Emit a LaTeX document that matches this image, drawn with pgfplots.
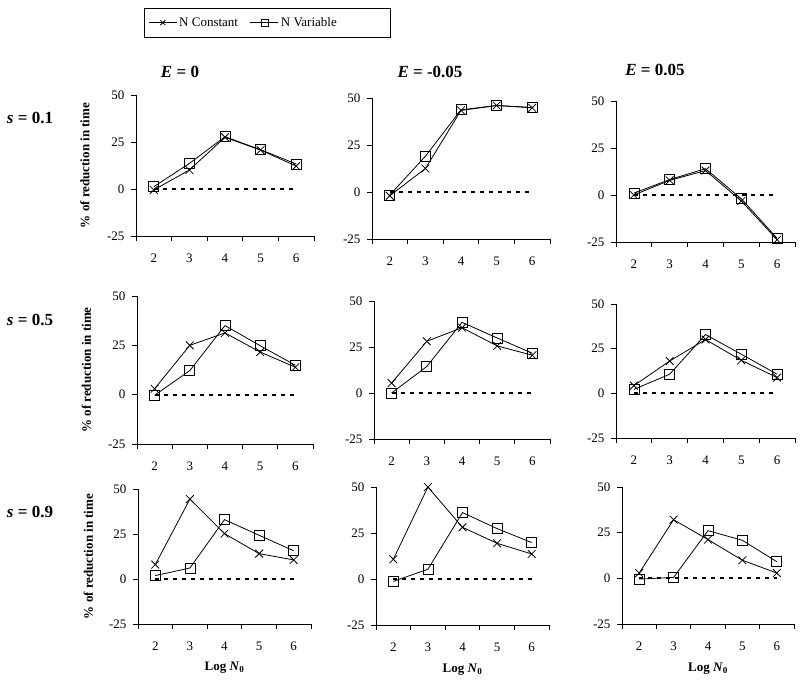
\documentclass[border=0pt]{standalone}
\usepackage{fontspec}
\setmainfont{Liberation Serif}
\usepackage{pgfplots}
\pgfplotsset{compat=1.18}
\pgfplotsset{
  panel/.style={
    scale only axis, anchor=south west,
    xmin=1.5, xmax=6.5, ymin=-25, ymax=50,
    axis x line*=bottom, axis y line*=left,
    axis line style={line width=0.8pt},
    xtick={2,3,4,5,6},
    minor xtick={1.5,2.5,3.5,4.5,5.5,6.5},
    ytick={-25,0,25,50},
    tick align=outside,
    major tick length=5pt, minor tick length=5pt,
    tick style={black, line width=0.8pt},
    major x tick style={draw=none},
    ticklabel style={font=\fontsize{13}{15}\selectfont},
    xticklabel style={yshift=-9pt},
    yticklabel style={xshift=-3pt},
    /pgf/number format/assume math mode=true,
    clip=false,
    label style={font=\fontsize{13}{15}\selectfont\bfseries},
  },
  const/.style={black, line width=0.8pt, mark=x, mark size=5.5pt, mark options={line width=0.8pt}},
  var/.style={black, line width=0.8pt, mark=square, mark size=5pt, mark options={line width=0.8pt}},
  zero/.style={black, line width=2pt, dash pattern=on 4pt off 5pt, no marks},
  yl/.style={ylabel={\% of reduction in time}, ylabel style={at={(axis description cs:-0.287,0.5)}, anchor=center}},
  xl/.style={xlabel={Log \textit{N}\textsubscript{0}}, xlabel style={at={(axis description cs:0.5,-0.326)}, anchor=center}},
}
\newcommand{\panel}[7]{%
  \begin{axis}[panel, at={(#1pt,#2pt)}, width=#3pt, height=#4pt, #5]
    \addplot[zero, forget plot] coordinates {(2,0) (6,0)};
    \addplot[const] coordinates {#6};
    \addplot[var] coordinates {#7};
  \end{axis}}
\begin{document}
\begin{tikzpicture}[x=1pt,y=1pt]
  \path (0,0) rectangle (800,680);
  % Row 1 (s = 0.1)
  \panel{136}{444}{178}{141}{yl,
      legend entries={N Constant, N Variable\hspace*{48pt}},
      legend style={at={(axis description cs:0.045,1.617)}, anchor=north west, legend columns=2,
        draw=black, line width=0.8pt, font=\fontsize{13}{15}\selectfont,
        inner ysep=7pt, inner xsep=4pt,
        /tikz/every even column/.append style={column sep=10pt}},
      legend image code/.code={\draw[mark repeat=2, mark phase=2] plot coordinates {(0pt,0pt) (14pt,0pt) (28pt,0pt)};},
      legend image post style={mark size=3.5pt}}
    {(2,-0.5) (3,10.1) (4,27.5) (5,20.7) (6,12.2)}
    {(2,1.2) (3,13.6) (4,27.8) (5,20.9) (6,13.3)}
  \panel{372}{441}{178}{141}{}
    {(2,-2) (3,12.5) (4,43.4) (5,46) (6,44.8)}
    {(2,-1.6) (3,19) (4,43.7) (5,46) (6,45)}
  \panel{616}{438}{179}{141}{}
    {(2,0) (3,7.8) (4,13) (5,-3.2) (6,-23.8)}
    {(2,1) (3,8.2) (4,14) (5,-2) (6,-23)}
  % Row 2 (s = 0.5)
  \panel{137}{236}{176}{148}{yl}
    {(2,3) (3,25) (4,31.3) (5,21.6) (6,13.9)}
    {(2,-0.3) (3,12.2) (4,35) (5,24.8) (6,14.9)}
  \panel{374}{241}{176}{138}{}
    {(2,5.4) (3,28.1) (4,35.5) (5,25.6) (6,20.5)}
    {(2,0) (3,14.4) (4,38.4) (5,29.9) (6,21.6)}
  \panel{616}{242}{179}{134}{}
    {(2,4.3) (3,18.1) (4,30.1) (5,18.5) (6,8.8)}
    {(2,2.2) (3,10.7) (4,32.9) (5,21.9) (6,10.7)}
  % Row 3 (s = 0.9)
  \panel{138}{56}{173}{135}{yl,xl}
    {(2,8) (3,44.4) (4,25.2) (5,14.1) (6,10.6)}
    {(2,1.9) (3,6.1) (4,33) (5,24.3) (6,15.7)}
  \panel{376}{55}{173}{138}{xl}
    {(2,10.7) (3,50) (4,28.1) (5,19.4) (6,13.6)}
    {(2,-1.3) (3,5.3) (4,36.1) (5,27.4) (6,19.8)}
  \panel{622}{56}{172}{137}{xl}
    {(2,2.9) (3,32.1) (4,21.2) (5,9.9) (6,2.9)}
    {(2,-0.4) (3,0.5) (4,26.1) (5,20.8) (6,9.1)}
  % column titles
  \node[font=\fontsize{17}{19}\selectfont\bfseries] at (180,608) {\textit{E} = 0};
  \node[font=\fontsize{17}{19}\selectfont\bfseries] at (430,608) {\textit{E} = -0.05};
  \node[font=\fontsize{17}{19}\selectfont\bfseries] at (655,610) {\textit{E} = 0.05};
  % row labels
  \node[font=\fontsize{17}{19}\selectfont\bfseries] at (30,562) {\textit{s} = 0.1};
  \node[font=\fontsize{17}{19}\selectfont\bfseries] at (30,360) {\textit{s} = 0.5};
  \node[font=\fontsize{17}{19}\selectfont\bfseries] at (30,168) {\textit{s} = 0.9};
\end{tikzpicture}
\end{document}
